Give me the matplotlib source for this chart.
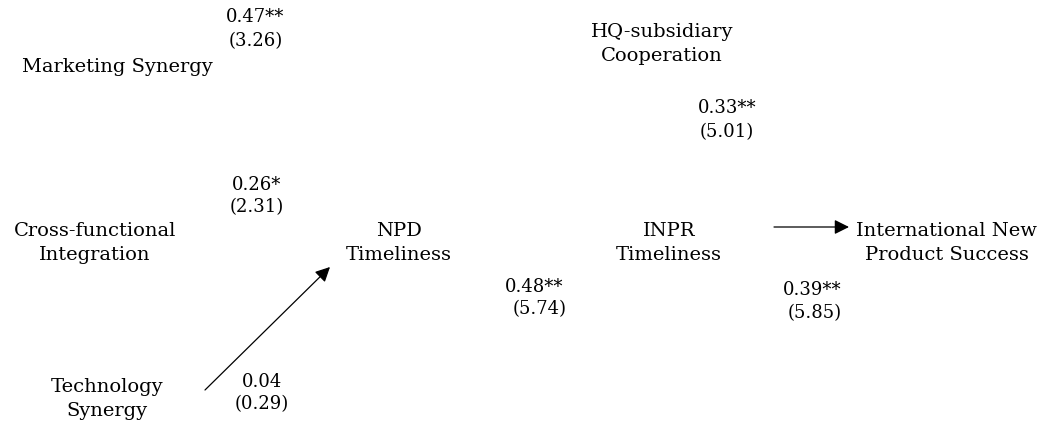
import matplotlib
matplotlib.use('Agg')
from matplotlib import pyplot as plt

# node labels and path coefficients (t-values)
nodes = ['Marketing Synergy', 'HQ-subsidiary\nCooperation', 'Cross-functional\nIntegration',
         'NPD\nTimeliness', 'INPR\nTimeliness', 'International New\nProduct Success',
         'Technology\nSynergy']
coefs = ['0.47**', '0.33**', '0.26*', '0.48**', '0.39**', '0.04']
tvals = ['(3.26)', '(5.01)', '(2.31)', '(5.74)', '(5.85)', '(0.29)']

# layout in pixel coords
node_pos = [(117, 67), (662, 44), (95, 243), (399, 243), (669, 243), (947, 243), (107, 399)]
coef_pos = [(255, 17), (727, 108), (257, 185), (534, 287), (812, 290), (262, 382)]
tval_pos = [(256, 41), (727, 132), (257, 207), (540, 309), (815, 313), (262, 404)]

fig = plt.figure(figsize=(10.38, 4.22), dpi=100)
ax = fig.add_axes([0, 0, 1, 1])
ax.set_xlim(0, 1038)
ax.set_ylim(422, 0)
ax.axis('off')

font = 'DejaVu Serif'
for lab, (x, y) in zip(nodes, node_pos):
    ax.text(x, y, lab, ha='center', va='center', fontsize=14, family=font,
            linespacing=1.4)
for c, (x, y) in zip(coefs, coef_pos):
    ax.text(x, y, c, ha='center', va='center', fontsize=13, family=font)
for t, (x, y) in zip(tvals, tval_pos):
    ax.text(x, y, t, ha='center', va='center', fontsize=13, family=font)

# arrows
ax.annotate('', xy=(330, 267), xytext=(205, 390),
            arrowprops=dict(arrowstyle='-|>', color='black', lw=0.9,
                            mutation_scale=22, shrinkA=0, shrinkB=0))
ax.annotate('', xy=(849, 227), xytext=(774, 227),
            arrowprops=dict(arrowstyle='-|>', color='black', lw=0.9,
                            mutation_scale=22, shrinkA=0, shrinkB=0))

fig.savefig('out.png', dpi=100)
